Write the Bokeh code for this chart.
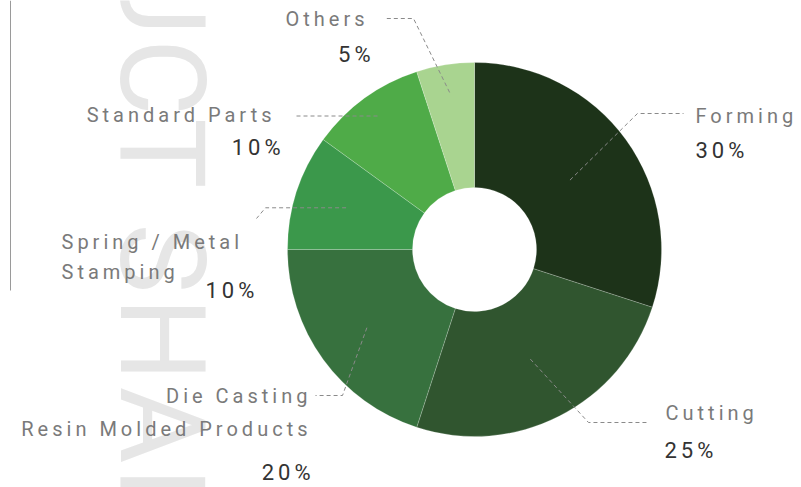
import math
from bokeh.plotting import figure
from bokeh.models import Range1d, ColumnDataSource, InlineStyleSheet
from bokeh.core.properties import value
from bokeh.embed import file_html
from bokeh.resources import INLINE

# ---------------- data ----------------
categories = ["Forming", "Cutting", "Die Casting\nResin Molded Products",
              "Spring / Metal\nStamping", "Standard Parts", "Others"]
shares = [30, 25, 20, 10, 10, 5]
colors = ["#1d3319", "#30552f", "#37713e", "#3b984b", "#4fab48", "#a9d490"]
title_text = "PRODUCT SHARE"

# ---------------- layout (pixels, y downward) ----------------
W, H = 801, 487
CX, CY = 474, 249
R_OUT, R_IN = 187, 62
LS = 4            # letter spacing (px) applied through CSS
BASE_SHIFT = -10  # baseline correction for rendered text
leader_r = [118, 123, 133, 135, 165, 159]
leader_pts = [
    [(637, 113), (683, 113)],
    [(588, 422), (647, 422)],
    [(342, 395), (315, 395)],
    [(265, None), (256, 218)],
    [(293, None)],
    [(413, 18), (384, 18)],
]
# name anchor: left edge (left aligned) or right ink edge (right aligned), baseline
name_pos = [(695, 125), (665, 422), (307, 405), (61, 251), (271, 124), (364, 28)]
line_gaps = [30, 30, 33, 30, 30, 30]
pct_pos = [(695, 160), (664, 460), (310, 482), (205, 300), (280, 157), (370, 64)]
aligns = ["left", "left", "right", "left", "right", "right"]


def fy(y):
    return H - y


def ax(x, txt, align):
    # Bokeh measures text without the CSS letter spacing; compensate for right alignment
    if align == "right":
        return x - LS * (len(txt) - 1)
    return x


p = figure(width=W, height=H, output_backend="svg", toolbar_location=None,
           x_range=Range1d(0, W), y_range=Range1d(0, H), min_border=0,
           outline_line_color=None, background_fill_color="white",
           border_fill_color="white")
p.axis.visible = False
p.grid.visible = False
p.stylesheets = [InlineStyleSheet(css=":host { letter-spacing: %dpx; }" % LS)]

# background title
p.text(x=[160], y=[fy(-364)], text=[title_text], angle=-math.pi / 2,
       text_font=value("Roboto"), text_font_size="118px", text_color="#e6e6e6",
       text_align="left", text_baseline="alphabetic")

# vertical rule
p.segment(x0=[10], y0=[fy(0)], x1=[10], y1=[fy(290)], line_color="#9a9a9a", line_width=1)

# donut
total = sum(shares)
starts, ends, mids = [], [], []
acc = 0
for v in shares:
    a0 = math.pi / 2 - 2 * math.pi * acc / total
    acc += v
    a1 = math.pi / 2 - 2 * math.pi * acc / total
    starts.append(a0)
    ends.append(a1)
    mids.append((a0 + a1) / 2)

src = ColumnDataSource(dict(x=[CX] * len(shares), y=[fy(CY)] * len(shares),
                            start=starts, end=ends, color=colors))
p.annular_wedge(x="x", y="y", inner_radius=R_IN, outer_radius=R_OUT,
                start_angle="start", end_angle="end", direction="clock",
                fill_color="color", line_color="white", line_width=0.4, line_alpha=0.5,
                source=src)

# leaders
xs, ys = [], []
for i, m in enumerate(mids):
    x0 = CX + leader_r[i] * math.cos(m)
    y0 = CY - leader_r[i] * math.sin(m)
    lx, ly = [x0], [y0]
    for (px, py) in leader_pts[i]:
        if py is None:
            py = ly[-1]
        lx.append(px)
        ly.append(py)
    xs.append(lx)
    ys.append([fy(v) for v in ly])
p.multi_line(xs=xs, ys=ys, line_color="#8a8a8a", line_width=1, line_dash="4 3")

# category labels
nx, ny, nt, na = [], [], [], []
for i, c in enumerate(categories):
    for j, line in enumerate(c.split("\n")):
        nx.append(ax(name_pos[i][0], line, aligns[i]))
        ny.append(fy(name_pos[i][1] + j * line_gaps[i] + BASE_SHIFT))
        nt.append(line)
        na.append(aligns[i])
lsrc = ColumnDataSource(dict(x=nx, y=ny, text=nt, align=na))
p.text(x="x", y="y", text="text", text_align="align", source=lsrc,
       text_font=value("Roboto"), text_font_size="20px", text_color="#7a7a7a",
       text_baseline="alphabetic")

# percentage labels
pt = [f"{v}%" for v in shares]
psrc = ColumnDataSource(dict(x=[ax(q[0], t, a) for q, t, a in zip(pct_pos, pt, aligns)],
                             y=[fy(q[1] + BASE_SHIFT) for q in pct_pos],
                             text=pt, align=aligns))
p.text(x="x", y="y", text="text", text_align="align", source=psrc,
       text_font=value("Roboto"), text_font_size="22px", text_color="#333333",
       text_baseline="alphabetic")

open("out.html", "w").write(file_html(p, INLINE))
